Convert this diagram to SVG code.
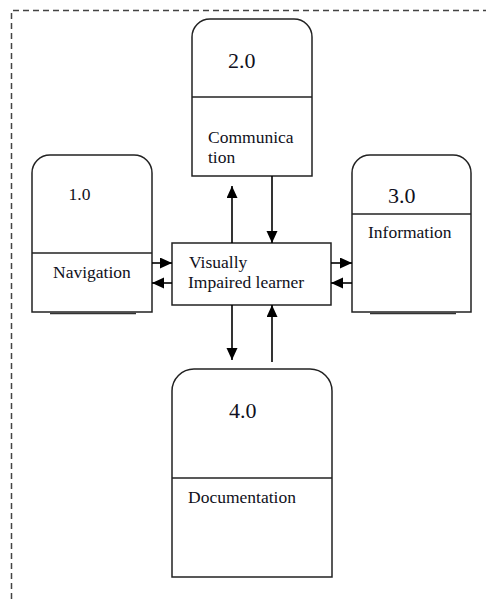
<svg xmlns="http://www.w3.org/2000/svg" width="487" height="599" viewBox="0 0 487 599">
<defs>
<marker id="ah" markerUnits="userSpaceOnUse" markerWidth="13" markerHeight="12" refX="12" refY="5.5" orient="auto">
<path d="M0,0 L12,5.5 L0,11 z" fill="#000"/>
</marker>
</defs>
<style>
.node{fill:#fff;stroke:#222;stroke-width:1.5}
.div{stroke:#222;stroke-width:1.5;fill:none}
.shadow{stroke:#333;stroke-width:1.5}
.conn{stroke:#000;stroke-width:1.6;fill:none;marker-end:url(#ah)}
text{font-family:'Liberation Serif','Times New Roman',Times,serif;fill:#101020}
.lbl{font-size:17.5px}
.num{font-size:22px}
.border{fill:none;stroke:#444;stroke-width:1.5;stroke-dasharray:6,4}
</style>
<path class="border" d="M11.5,599 V10.5 H486"/>
<g id="node-2">
<path class="node" d="M192,176 V37 A18,18 0 0 1 210,19 H294 A18,18 0 0 1 312,37 V176 Z"/>
<line class="div" x1="192" y1="97" x2="312" y2="97"/>
<text class="num" x="228" y="68" font-family="Liberation Serif, serif">2.0</text>
<text class="lbl" x="208" y="143" font-family="Liberation Serif, serif">Communica</text>
<text class="lbl" x="208" y="163" font-family="Liberation Serif, serif">tion</text>
</g>
<g id="node-1">
<path class="node" d="M32,312 V173 A18,18 0 0 1 50,155 H134 A18,18 0 0 1 152,173 V312 Z"/>
<line class="div" x1="32" y1="253" x2="152" y2="253"/>
<line class="shadow" x1="50" y1="313.5" x2="136" y2="313.5"/>
<text class="lbl" x="68.5" y="200" font-family="Liberation Serif, serif">1.0</text>
<text class="lbl" x="53" y="278" font-family="Liberation Serif, serif">Navigation</text>
</g>
<g id="node-3">
<path class="node" d="M352,312 V173 A18,18 0 0 1 370,155 H453 A18,18 0 0 1 471,173 V312 Z"/>
<line class="div" x1="352" y1="214" x2="471" y2="214"/>
<line class="shadow" x1="370" y1="313.5" x2="456" y2="313.5"/>
<text class="num" x="388" y="203" font-family="Liberation Serif, serif">3.0</text>
<text class="lbl" x="368" y="238" font-family="Liberation Serif, serif">Information</text>
</g>
<g id="node-center">
<rect class="node" x="172" y="243" width="159" height="62"/>
<text class="lbl" x="189" y="268" font-family="Liberation Serif, serif">Visually</text>
<text class="lbl" x="188" y="288" font-family="Liberation Serif, serif">Impaired learner</text>
</g>
<g id="node-4">
<path class="node" d="M172,577 V391 A22,22 0 0 1 194,369 H310 A22,22 0 0 1 332,391 V577 Z"/>
<line class="div" x1="172" y1="478" x2="332" y2="478"/>
<text class="num" x="229" y="418" font-family="Liberation Serif, serif">4.0</text>
<text class="lbl" x="188" y="503" font-family="Liberation Serif, serif">Documentation</text>
</g>
<g id="connectors">
<line class="conn" x1="232" y1="243" x2="232" y2="186"/>
<line class="conn" x1="272" y1="176" x2="272" y2="243"/>
<line class="conn" x1="152" y1="263" x2="172" y2="263"/>
<line class="conn" x1="172" y1="283" x2="152" y2="283"/>
<line class="conn" x1="331" y1="263" x2="352" y2="263"/>
<line class="conn" x1="352" y1="283" x2="331" y2="283"/>
<line class="conn" x1="232" y1="305" x2="232" y2="360"/>
<line class="conn" x1="272" y1="362" x2="272" y2="305"/>
</g>
</svg>
